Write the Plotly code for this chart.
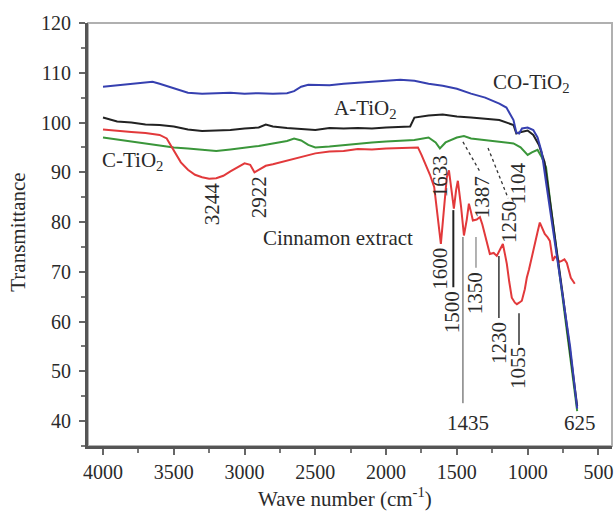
import plotly.graph_objects as go

# ---- data ----
co_x = [4000, 3900, 3800, 3700, 3650, 3600, 3500, 3400, 3300, 3200, 3100, 3000, 2900, 2800, 2700, 2650, 2600, 2550, 2500, 2400, 2300, 2200, 2100, 2000, 1900, 1800, 1700, 1600, 1500, 1400, 1300, 1200, 1150, 1100, 1080, 1060, 1040, 1000, 960, 930, 900, 870, 840, 800, 750, 700, 660, 650]
co_y = [107.2, 107.5, 107.8, 108.0, 108.2, 107.8, 106.9, 106.0, 105.8, 105.9, 106.0, 105.8, 105.9, 105.8, 105.9, 106.3, 107.2, 107.6, 107.6, 107.5, 107.8, 108.0, 108.2, 108.4, 108.6, 108.4, 107.8, 107.4, 106.8, 105.8, 105.0, 103.8, 103.0, 100.5, 98.0, 97.8, 98.8, 99.0, 98.5, 97.0, 94.0, 88.0, 82.0, 75.0, 65.0, 55.0, 45.0, 42.5]

a_x = [4000, 3900, 3800, 3700, 3600, 3500, 3400, 3300, 3200, 3100, 3000, 2900, 2850, 2800, 2700, 2600, 2500, 2400, 2300, 2200, 2100, 2000, 1900, 1830, 1800, 1700, 1600, 1500, 1400, 1300, 1200, 1100, 1080, 1060, 1000, 960, 920, 880, 850, 800, 750, 700, 660, 650]
a_y = [101.0, 100.2, 100.0, 99.6, 99.5, 99.2, 98.6, 98.3, 98.4, 98.5, 98.8, 99.0, 99.6, 99.2, 98.9, 98.7, 98.5, 98.9, 98.8, 98.9, 98.8, 99.0, 99.1, 99.2, 101.0, 101.4, 101.6, 101.2, 101.0, 100.8, 100.5, 99.5, 97.8, 98.0, 98.4, 97.5, 95.5, 92.0, 86.0, 76.0, 65.0, 54.0, 45.0, 43.0]

c_x = [4000, 3900, 3800, 3700, 3600, 3500, 3400, 3300, 3200, 3100, 3000, 2900, 2800, 2700, 2650, 2600, 2550, 2500, 2400, 2300, 2200, 2100, 2000, 1900, 1800, 1700, 1650, 1620, 1580, 1500, 1450, 1400, 1300, 1200, 1100, 1050, 1000, 970, 930, 900, 870, 840, 800, 750, 700, 660, 650]
c_y = [97.0, 96.6, 96.2, 95.8, 95.4, 95.0, 94.8, 94.5, 94.3, 94.6, 94.9, 95.3, 95.8, 96.3, 96.8, 96.4, 95.5, 95.0, 95.2, 95.5, 95.8, 96.0, 96.2, 96.3, 96.5, 97.0, 96.0, 94.8, 96.0, 97.0, 97.3, 96.8, 96.5, 96.2, 95.8, 95.0, 93.5, 94.0, 94.5, 93.0, 91.0, 84.0, 75.0, 64.0, 53.0, 44.5, 42.0]

ce_x = [4000, 3900, 3800, 3700, 3600, 3550, 3500, 3450, 3400, 3350, 3300, 3250, 3200, 3150, 3100, 3050, 3000, 2960, 2930, 2900, 2850, 2800, 2700, 2600, 2500, 2400, 2300, 2200, 2100, 2000, 1900, 1800, 1775, 1750, 1726, 1690, 1660, 1640, 1613, 1590, 1571, 1556, 1540, 1521, 1505, 1493, 1470, 1450, 1430, 1415, 1400, 1387, 1360, 1337, 1320, 1302, 1280, 1267, 1240, 1218, 1195, 1175, 1160, 1147, 1130, 1112, 1090, 1076, 1060, 1041, 1020, 1006, 990, 970, 949, 930, 914, 895, 879, 860, 843, 822, 808, 794, 775, 759, 740, 723, 705, 695, 667]
ce_y = [98.6, 98.3, 98.1, 97.9, 97.5, 96.8, 94.5, 92.0, 90.5, 89.5, 89.0, 88.7, 88.8, 89.3, 90.2, 91.0, 91.8, 91.5, 90.0, 90.5, 91.3, 91.6, 92.3, 93.0, 93.8, 94.2, 94.3, 94.7, 94.6, 94.8, 94.9, 94.9, 95.0, 93.5, 92.0, 89.5, 87.0, 82.0, 75.6, 83.0, 89.0, 90.4, 87.0, 82.7, 86.5, 88.3, 83.0, 77.3, 80.5, 83.7, 82.0, 80.3, 80.5, 81.0, 79.5, 77.6, 75.0, 73.6, 73.8, 73.2, 74.5, 75.6, 73.5, 71.6, 68.0, 64.8, 63.8, 63.5, 63.8, 64.2, 66.5, 68.8, 70.5, 72.8, 75.6, 78.0, 79.9, 78.5, 77.6, 77.0, 76.2, 72.2, 73.0, 72.8, 72.0, 72.2, 72.5, 71.8, 70.0, 68.8, 67.6]

x_ticks = [4000, 3500, 3000, 2500, 2000, 1500, 1000, 500]
y_ticks = [40, 50, 60, 70, 80, 90, 100, 110, 120]

FONT = "Liberation Serif"
TXT = "#2a2a2a"
FS = 21
TFS = 20

fig = go.Figure()
fig.add_trace(go.Scatter(x=c_x, y=c_y, mode="lines", line=dict(color="#3a963a", width=2), name="C-TiO2"))
fig.add_trace(go.Scatter(x=ce_x, y=ce_y, mode="lines", line=dict(color="#e2393b", width=2), name="Cinnamon extract"))
fig.add_trace(go.Scatter(x=a_x, y=a_y, mode="lines", line=dict(color="#222222", width=2), name="A-TiO2"))
fig.add_trace(go.Scatter(x=co_x, y=co_y, mode="lines", line=dict(color="#3640b0", width=2), name="CO-TiO2"))

# leader lines (solid)
solid = [
    (1525, 82.4, 1525, 66.9, "#222", 2),
    (1457, 77.0, 1457, 43.6, "#444", 1),
    (1365, 77.0, 1365, 70.8, "#999", 1.5),
    (1203, 73.2, 1203, 60.7, "#333", 1.5),
    (1061, 61.7, 1061, 55.3, "#333", 1.5),
]
for x0, y0, x1, y1, col, w in solid:
    fig.add_shape(type="line", x0=x0, y0=y0, x1=x1, y1=y1, xref="x", yref="y", line=dict(color=col, width=w))
dashed = [
    (1457, 96.1, 1336, 90.1),
    (1280, 94.9, 1138, 84.8),
]
for x0, y0, x1, y1 in dashed:
    fig.add_shape(type="line", x0=x0, y0=y0, x1=x1, y1=y1, xref="x", yref="y", line=dict(color="#333", width=1.3, dash="dot"))

# peak labels (rotated)
rot_labels = [
    ("3244", 3230, 83.8), ("2922", 2898, 85.0), ("1633", 1619, 89.2), ("1387", 1322, 85.0),
    ("1104", 1068, 87.8), ("1250", 1132, 80.0), ("1600", 1619, 70.6), ("1500", 1534, 61.9),
    ("1350", 1372, 65.7), ("1230", 1202, 55.7), ("1055", 1068, 50.7),
]
for t, x, y in rot_labels:
    fig.add_annotation(x=x, y=y, text=t, textangle=-90, showarrow=False, xanchor="center", yanchor="middle",
                       font=dict(family=FONT, size=FS, color=TXT))
flat_labels = [
    ("1435", 1422, 39.6), ("625", 630, 39.6), ("Cinnamon extract", 2340, 76.8),
    ("C-TiO<sub>2</sub>", 3795, 92.3), ("A-TiO<sub>2</sub>", 2149, 102.7), ("CO-TiO<sub>2</sub>", 976, 107.9),
]
for t, x, y in flat_labels:
    fig.add_annotation(x=x, y=y, text=t, showarrow=False, xanchor="center", yanchor="middle",
                       font=dict(family=FONT, size=FS, color=TXT))

# axis titles
fig.add_annotation(xref="paper", yref="paper", x=0.490, y=-0.122, text="Wave number (cm<sup>-1</sup>)",
                   xanchor="center", yanchor="middle", showarrow=False, font=dict(family=FONT, size=FS, color=TXT))
fig.add_annotation(xref="paper", yref="paper", x=-0.134, y=0.506, text="Transmittance", textangle=-90,
                   xanchor="center", yanchor="middle", showarrow=False, font=dict(family=FONT, size=FS, color=TXT))

# light frame on top / right
fig.add_shape(type="rect", xref="paper", yref="paper", x0=0, y0=0, x1=1, y1=1, line=dict(color="#b0b0b0", width=2), layer="below")

fig.update_layout(
    width=614, height=518,
    margin=dict(l=88, r=2, t=23, b=72),
    paper_bgcolor="white", plot_bgcolor="white",
    showlegend=False,
    font=dict(family=FONT, size=FS, color=TXT),
    xaxis=dict(range=[4106, 404], tickvals=x_ticks, ticks="outside", ticklen=6, tickwidth=2, tickcolor="#666",
               showline=True, linecolor="#555", linewidth=3, showgrid=False, zeroline=False, automargin=False,
               ticklabeloverflow="allow",
               minor=dict(dtick=250, ticks="outside", ticklen=4, tickwidth=1.5, tickcolor="#777", showgrid=False),
               tickfont=dict(family=FONT, size=TFS, color=TXT)),
    yaxis=dict(range=[35, 120], tickvals=y_ticks, ticks="outside", ticklen=6, tickwidth=2, tickcolor="#666",
               showline=True, linecolor="#555", linewidth=3, showgrid=False, zeroline=False, automargin=False,
               ticklabelstandoff=4,
               minor=dict(dtick=5, ticks="outside", ticklen=4, tickwidth=1.5, tickcolor="#777", showgrid=False),
               tickfont=dict(family=FONT, size=TFS, color=TXT)),
)

fig.write_html("out.html", config={"displayModeBar": False},
               post_script="document.body.style.margin='0';document.body.style.overflow='hidden';")
